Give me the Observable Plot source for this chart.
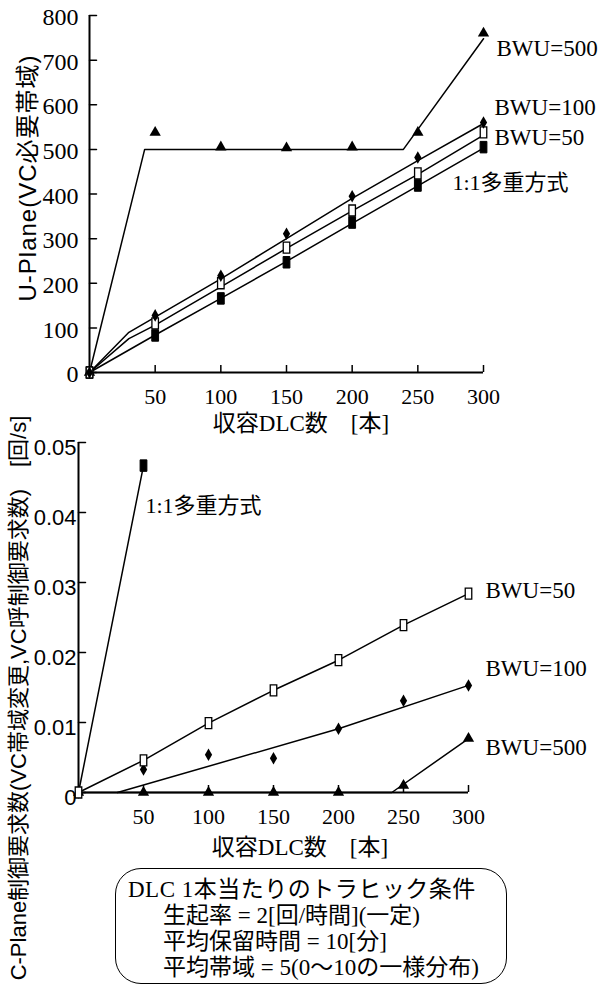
<!DOCTYPE html>
<html><head><meta charset="utf-8">
<script src="https://cdn.jsdelivr.net/npm/d3@7"></script>
<script src="https://cdn.jsdelivr.net/npm/@observablehq/plot@0.6"></script>
<style>
body{margin:0;background:#fff;width:612px;height:996px;position:relative;overflow:hidden;font-family:"Liberation Serif","Noto Sans CJK JP",serif;color:#000}
#top{position:absolute;left:0;top:0}
#bot{position:absolute;left:0;top:420px}
.ylab{position:absolute;white-space:nowrap;transform:translate(-50%,-50%) rotate(-90deg);font-family:"Liberation Sans","Noto Sans CJK JP",sans-serif;line-height:1}
.xlab{position:absolute;white-space:nowrap;transform:translate(-50%,-50%);font-size:23px;line-height:1}
#box{position:absolute;left:115px;top:868px;width:392px;height:116px;border:1.6px solid #000;border-radius:26px;box-sizing:border-box;font-size:23px;line-height:26px;padding-top:8px}
#box div{white-space:nowrap}
</style></head>
<body>
<div id="top"></div>
<div id="bot"></div>
<div class="ylab" style="left:28px;top:178px;font-size:24px;letter-spacing:1px">U-Plane(VC必要帯域)</div>
<div class="xlab" style="left:301px;top:423px">収容DLC数　[本]</div>
<div class="ylab" style="left:19px;top:698px;font-size:22px">C-Plane制御要求数(VC帯域変更,VC呼制御要求数)　[回/s]</div>
<div class="xlab" style="left:300px;top:847px">収容DLC数　[本]</div>
<div id="box">
  <div style="padding-left:12px;letter-spacing:0.5px">DLC 1本当たりのトラヒック条件</div>
  <div style="padding-left:47px">生起率 = 2[回/時間](一定)</div>
  <div style="padding-left:47px">平均保留時間 = 10[分]</div>
  <div style="padding-left:47px">平均帯域 = 5(0〜10の一様分布)</div>
</div>
<script>
// ---- data ----
const dlc = [0, 50, 100, 150, 200, 250, 300];
const xTicks = [50, 100, 150, 200, 250, 300];
const uYTicks = [0, 100, 200, 300, 400, 500, 600, 700, 800];
const bYTicks = [0, 0.01, 0.02, 0.03, 0.04, 0.05];
const seriesNames = ["BWU=500", "BWU=100", "BWU=50", "1:1多重方式"];

// Upper chart (U-Plane) markers
const uBwu500 = [0, 538, 505, 503, 505, 538, 760];
const uBwu100 = [0, 128, 217, 311, 395, 482, 560];
const uBwu50  = [0, 110, 200, 280, 363, 446, 538];
const u11     = [0, 83, 166, 247, 336, 419, 505];
// Upper chart fitted lines
const uLine500X = [0, 42, 239, 300];
const uLine500Y = [0, 500, 500, 748];
const uLineKX   = [0, 30, 50, 100, 150, 200, 250, 300];
const uLine100Y = [0, 90, 124, 210, 300, 390, 475, 558];
const uLine50Y  = [0, 76, 106, 192, 278, 362, 444, 532];
const uLine11X  = [0, 50, 100, 150, 200, 250, 300];
const uLine11Y  = [0, 84, 166, 249, 334, 418, 503];

// Lower chart (C-Plane) markers
const b11X    = [0, 50];
const b11     = [0, 0.0467];
const bBwu50  = [0, 0.0046, 0.0099, 0.0146, 0.0189, 0.0239, 0.0284];
const bBwu100 = [0, 0.0033, 0.0054, 0.0049, 0.0091, 0.0131, 0.0153];
const bBwu500 = [0, 0, 0, 0, 0, 0.0010, 0.0077];
// Lower chart fitted lines
const bLine100X = [30, 200, 300];
const bLine100Y = [0, 0.0091, 0.0153];
const bLine500X = [0, 241, 300];
const bLine500Y = [0, 0, 0.0077];

// ---- helpers ----
const FONT = '"Liberation Serif","Noto Sans CJK JP",serif';
const SANS = '"Liberation Sans","Noto Sans CJK JP",sans-serif';
const pts = (xs, ys) => xs.map((x, i) => ({x, y: ys[i]}));
const last = (xs, ys) => [{x: xs[xs.length - 1], y: ys[ys.length - 1]}];
const tallRect = {draw(ctx, size) {
  const s = Math.sqrt(size), w = s * 0.8, h = s * 1.35;
  ctx.moveTo(-w / 2, -h / 2); ctx.lineTo(w / 2, -h / 2); ctx.lineTo(w / 2, h / 2); ctx.lineTo(-w / 2, h / 2); ctx.closePath();
}};
const tickShape = {draw(ctx, l) { ctx.moveTo(0, 0); ctx.lineTo(0, -l); }};
const lineOpts = {x: "x", y: "y", stroke: "#000", strokeWidth: 1.5};
function label(xs, ys, name, dx, dy, size) {
  return Plot.text(last(xs, ys), {x: "x", y: "y", text: () => name, dx, dy, textAnchor: "start", fontSize: size, fontFamily: FONT, fill: "#000"});
}
function markers(xs, ys, kind) {
  const d = pts(xs, ys);
  if (kind === "tri") return Plot.dot(d, {x: "x", y: "y", symbol: "triangle", r: 4.2, fill: "#000", stroke: "none"});
  if (kind === "dia") return Plot.dot(d, {x: "x", y: "y", symbol: "diamond", r: 3.8, fill: "#000", stroke: "none"});
  if (kind === "open") return Plot.dot(d, {x: "x", y: "y", symbol: tallRect, r: 4.6, fill: "#fff", stroke: "#000", strokeWidth: 1.3});
  return Plot.dot(d, {x: "x", y: "y", symbol: tallRect, r: 4.8, fill: "#000", stroke: "#000", strokeWidth: 1});
}
// inward x ticks: bottom-axis ticks shifted up by their own length
const xTickMarks = () => Plot.axisX(xTicks, {tickSize: 7, dy: -7, tickFormat: () => "", label: null, stroke: "#000", strokeWidth: 1.5});
const yTickMarks = (ticks) => Plot.vector(ticks, {x: () => 0, y: d => d, length: 7, rotate: 90, anchor: "start", shape: tickShape, stroke: "#000", strokeWidth: 1.5});
const styleObj = {fontFamily: FONT, fontSize: "22px", color: "#000", background: "transparent", overflow: "visible"};

const topPlot = Plot.plot({
  width: 612, height: 420, marginLeft: 89, marginRight: 129, marginTop: 15, marginBottom: 48,
  x: {domain: [0, 300], axis: null},
  y: {domain: [0, 800], axis: null},
  style: styleObj,
  marks: [
    Plot.axisY(uYTicks, {tickSize: 0, tickPadding: 11, fontSize: 24, fontFamily: FONT, label: null, tickFormat: d => String(d), dy: 2}),
    Plot.axisX(xTicks, {tickSize: 0, tickPadding: 16, fontSize: 22, fontFamily: FONT, label: null, tickFormat: d => String(d)}),
    Plot.ruleX([0], {stroke: "#000", strokeWidth: 2}),
    Plot.ruleY([0], {stroke: "#000", strokeWidth: 2}),
    yTickMarks(uYTicks),
    xTickMarks(),
    Plot.line(pts(uLine500X, uLine500Y), lineOpts),
    Plot.line(pts(uLineKX, uLine100Y), lineOpts),
    Plot.line(pts(uLineKX, uLine50Y), lineOpts),
    Plot.line(pts(uLine11X, uLine11Y), lineOpts),
    markers(dlc, uBwu500, "tri"),
    markers(dlc, u11, "fill"),
    markers(dlc, uBwu50, "open"),
    markers(dlc, uBwu100, "dia"),
    label(dlc, uBwu500, seriesNames[0], 13, 15, 23),
    label(dlc, uBwu100, seriesNames[1], 11, -15, 23),
    label(dlc, uBwu50, seriesNames[2], 11, 5, 23),
    label(dlc, u11, seriesNames[3], -31, 36, 22)
  ]
});
document.getElementById("top").append(topPlot);

const botPlot = Plot.plot({
  width: 612, height: 420, marginLeft: 78, marginRight: 144, marginTop: 22, marginBottom: 48,
  x: {domain: [0, 300], axis: null},
  y: {domain: [0, 0.05], axis: null},
  style: styleObj,
  marks: [
    Plot.axisY(bYTicks, {tickSize: 0, tickPadding: 2, fontSize: 22, fontFamily: SANS, label: null, dy: 5, tickFormat: d => d === 0 ? "0" : d.toFixed(2)}),
    Plot.axisX(xTicks, {tickSize: 0, tickPadding: 16, fontSize: 22, fontFamily: FONT, label: null, tickFormat: d => String(d)}),
    Plot.ruleX([0], {stroke: "#000", strokeWidth: 2}),
    Plot.ruleY([0], {stroke: "#000", strokeWidth: 2}),
    yTickMarks(bYTicks),
    xTickMarks(),
    Plot.line(pts(b11X, b11), lineOpts),
    Plot.line(pts(dlc, bBwu50), lineOpts),
    Plot.line(pts(bLine100X, bLine100Y), lineOpts),
    Plot.line(pts(bLine500X, bLine500Y), lineOpts),
    markers(dlc, bBwu500, "tri"),
    markers(dlc, bBwu100, "dia"),
    markers(dlc, bBwu50, "open"),
    markers(b11X.slice(1), b11.slice(1), "fill"),
    label(b11X, b11, seriesNames[3], 2, 40, 22),
    label(dlc, bBwu50, seriesNames[2], 17, -3, 23),
    label(dlc, bBwu100, seriesNames[1], 17, -17, 23),
    label(dlc, bBwu500, seriesNames[0], 17, 9, 23)
  ]
});
document.getElementById("bot").append(botPlot);
</script>
</body></html>
